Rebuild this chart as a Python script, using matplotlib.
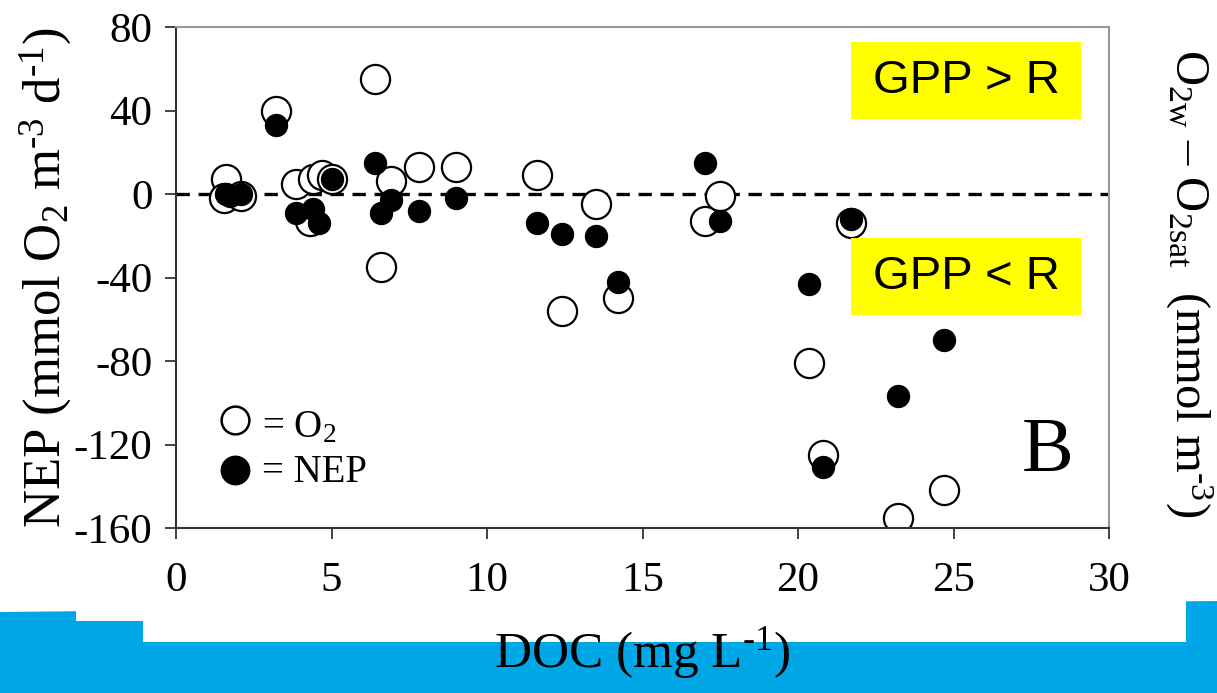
import matplotlib.pyplot as plt
from matplotlib.patches import Rectangle, Polygon

plt.rcParams['font.family'] = ['Liberation Serif', 'DejaVu Serif']
plt.rcParams['mathtext.fontset'] = 'custom'
plt.rcParams['mathtext.rm'] = 'Liberation Serif'
plt.rcParams['mathtext.it'] = 'Liberation Serif'
plt.rcParams['axes.unicode_minus'] = False

# open circles: O2w - O2sat
o2_doc = [1.6, 1.55, 2.1, 3.2, 3.85, 4.3, 4.4, 4.7, 5.0, 6.4, 6.9, 6.6, 7.8, 9.0,
          11.6, 12.4, 13.5, 14.2, 17.0, 17.5, 20.35, 20.8, 21.7, 23.2, 24.7]
o2_val = [7, -2, -1, 40, 5, -13, 7, 9, 7, 55, 6, -35, 13, 13,
          9, -56, -5, -50, -13, -1, -81, -125, -14, -155, -142]

# filled circles: NEP
nep_doc = [1.6, 1.75, 2.1, 3.2, 3.85, 4.4, 4.6, 5.0, 6.4, 6.6, 6.9, 7.8, 9.0,
           11.6, 12.4, 13.5, 14.2, 17.0, 17.5, 20.35, 20.8, 21.7, 23.2, 24.7]
nep_val = [0, -1, 0, 33, -9, -7, -14, 7, 15, -9, -3, -8, -2,
           -14, -19, -20, -42, 15, -13, -43, -131, -12, -97, -70]

W, H = 1217, 693
fig = plt.figure(figsize=(W / 100, H / 100), dpi=100)

# slide background (pixel coords)
bg = fig.add_axes([0, 0, 1, 1], zorder=-5)
bg.set_xlim(0, W)
bg.set_ylim(H, 0)
bg.axis('off')
bg.add_patch(Polygon([(0, 612), (600, 606), (1217, 601), (1217, 693), (0, 693)],
                     closed=True, fc='#00a7e7', ec='none'))
bg.add_patch(Rectangle((76, 590), 67, 31, fc='white', ec='none'))
bg.add_patch(Rectangle((143, 590), 1043, 52, fc='white', ec='none'))

ax = fig.add_axes([176 / W, 1 - 528 / H, (1109 - 176) / W, (528 - 27) / H])
ax.set_facecolor('none')

ax.axhline(0, color='black', lw=2.4, ls=(0, (4, 2.6)), zorder=1)

ax.scatter(o2_doc, o2_val, s=440, facecolors='white', edgecolors='black',
           linewidths=1.6, zorder=2)
ax.scatter(nep_doc, nep_val, s=250, color='black', zorder=3)

ax.set_xlim(0, 30)
ax.set_ylim(-160, 80)
ax.set_xticks(range(0, 31, 5))
ax.set_yticks(range(-160, 81, 40))
ax.tick_params(direction='out', length=8, width=1.2, labelsize=31, colors='#222222',
               labelcolor='black')
ax.tick_params(axis='x', pad=16)
ax.tick_params(axis='y', pad=9)
for s in ['left', 'bottom']:
    ax.spines[s].set_color('#333333')
    ax.spines[s].set_linewidth(1.5)
for s in ['top', 'right']:
    ax.spines[s].set_color('#999999')
    ax.spines[s].set_linewidth(1.5)

ax.set_xlabel('DOC (mg L$^{\\text{-1}}$)', fontsize=37, labelpad=18)
ax.set_ylabel('NEP (mmol O$_2$ m$^{\\text{-3}}$ d$^{\\text{-1}}$)', fontsize=38,
              labelpad=0)

fig.text(1189 / W, 1 - 283 / H,
         'O$_{\\mathrm{2w}}$ \u2013 O$_{\\mathrm{2sat}}$  (mmol m$^{\\text{-3}}$)',
         rotation=-90, fontsize=35, ha='center', va='center')

# GPP boxes
for y0, label in [(42, 'GPP > R'), (238, 'GPP < R')]:
    box = Rectangle((851 / W, 1 - (y0 + 77) / H), 230 / W, 77 / H,
                    transform=fig.transFigure, fc='#ffff00', ec='none', zorder=10)
    fig.patches.append(box)
    fig.text(966 / W, 1 - (y0 + 39) / H, label, family='Liberation Sans',
             fontsize=34, ha='center', va='center', zorder=11)

fig.text(1048 / W, 1 - 452 / H, 'B', fontsize=56, ha='center', va='center')

# manual legend
fig.text(262 / W, 1 - 428 / H, '= O$_2$', fontsize=28, ha='left', va='center')
fig.text(262 / W, 1 - 472 / H, '= NEP', fontsize=28, ha='left', va='center')
ax.scatter([0.063], [0.215], s=400, facecolors='white', edgecolors='black',
           linewidths=1.8, transform=ax.transAxes, clip_on=False)
ax.scatter([0.063], [0.115], s=420, color='black', transform=ax.transAxes, clip_on=False)

fig.savefig('out.png', dpi=100)
